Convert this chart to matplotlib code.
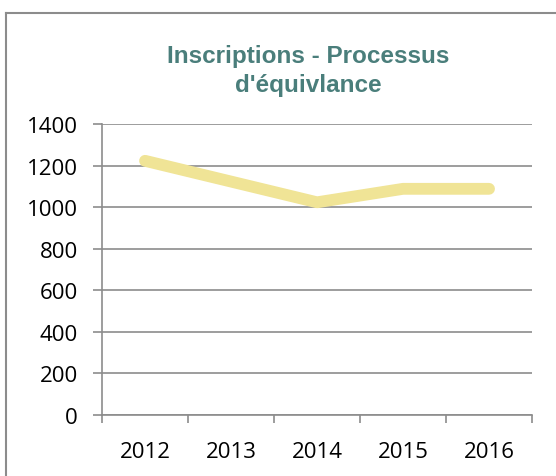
import matplotlib.pyplot as plt
from matplotlib.lines import Line2D

years = ['2012', '2013', '2014', '2015', '2016']
inscriptions = [1225, 1125, 1025, 1090, 1090]
yticks = [0, 200, 400, 600, 800, 1000, 1200, 1400]

plt.rcParams['font.family'] = ['Open Sans', 'DejaVu Sans']
grey = '#8c8c8c'

fig = plt.figure(figsize=(5.56, 4.77), dpi=100)
ax = fig.add_axes([0.1835, 0.1279, 0.7734, 0.609])

ax.plot(range(len(years)), inscriptions, color='#f0e496', linewidth=8.5,
        solid_capstyle='round', solid_joinstyle='round', zorder=3)

ax.set_xlim(-0.5, 4.5)
ax.set_ylim(0, 1400)
ax.set_yticks(yticks)
ax.set_yticklabels([str(v) for v in yticks], fontsize=16)
ax.set_xticks(range(len(years)))
ax.set_xticklabels(years, fontsize=16)
ax.set_xticks([i - 0.5 for i in range(len(years) + 1)], minor=True)
ax.tick_params(axis='x', which='major', length=0, pad=19)
ax.tick_params(axis='x', which='minor', length=6, color=grey, width=1.2, direction='out')
ax.tick_params(axis='y', length=6.5, color=grey, width=1.2, pad=11)
ax.grid(axis='y', color=grey, linewidth=1.2)
ax.set_axisbelow(True)
for s in ['top', 'right']:
    ax.spines[s].set_visible(False)
for s in ['left', 'bottom']:
    ax.spines[s].set_color(grey)
    ax.spines[s].set_linewidth(1.2)

fig.text(308 / 556, 1 - 71 / 477, "Inscriptions - Processus\nd'équivlance", ha='center', va='center',
         fontsize=17.5, fontweight='bold', color='#4a7e7b', linespacing=1.33,
         family=['Liberation Sans', 'DejaVu Sans'])

# frame around the chart (only left and top edges visible)
fig.add_artist(Line2D([6 / 556, 6 / 556], [0, 1 - 14 / 477], color=grey, linewidth=1.5))
fig.add_artist(Line2D([6 / 556, 1], [1 - 14 / 477, 1 - 14 / 477], color=grey, linewidth=1.5))

fig.savefig('out.png', dpi=100)
